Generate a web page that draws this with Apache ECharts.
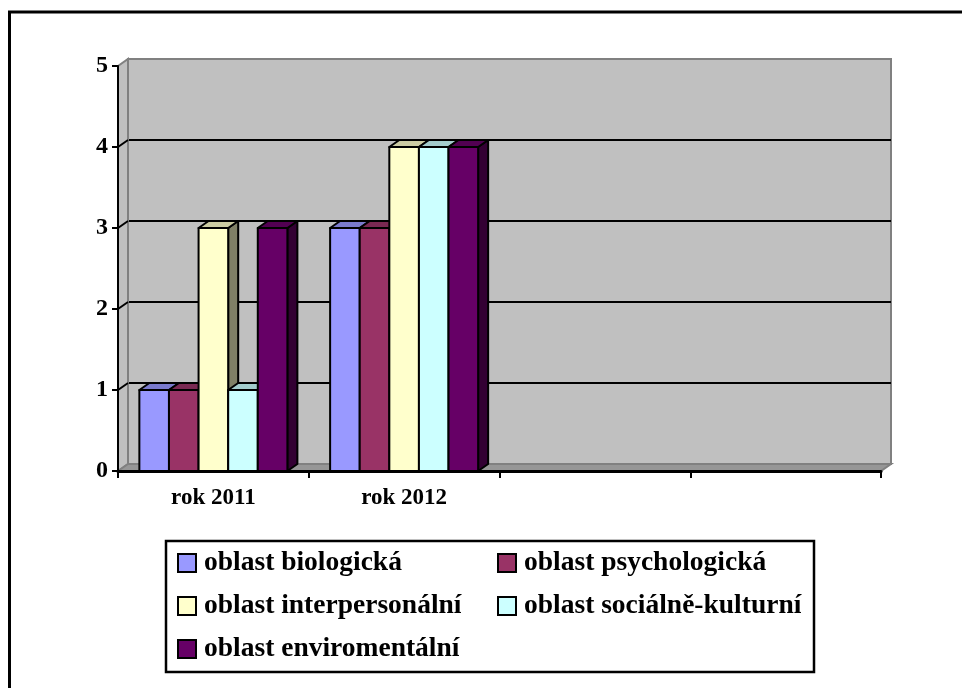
<!DOCTYPE html>
<html>
<head>
<meta charset="utf-8">
<script src="https://cdn.jsdelivr.net/npm/echarts@6/dist/echarts.min.js"></script>
<style>
  html, body { margin: 0; padding: 0; background: #fff; }
  #chart { width: 962px; height: 688px; }
</style>
</head>
<body>
<div id="chart"></div>
<script>
// data
const categories = ['rok 2011', 'rok 2012', ' ', '  ']
const seriesNames = [
  'oblast biologická',
  'oblast psychologická',
  'oblast interpersonální',
  'oblast sociálně-kulturní',
  'oblast enviromentální',
]
const biologicka = [1, 3]
const psychologicka = [1, 3]
const interpersonalni = [3, 4]
const socialneKulturni = [1, 4]
const enviromentalni = [3, 4]
const seriesValues = [biologicka, psychologicka, interpersonalni, socialneKulturni, enviromentalni]
const yTicks = [0, 1, 2, 3, 4, 5]

// Excel 2003 style palette
const colors = ['#9999FF', '#993366', '#FFFFCC', '#CCFFFF', '#660066']

const FONT = "'Liberation Serif', 'Times New Roman', serif"
const DX = 10   // 3D depth offset
const DY = -7
const GAP = 0.224

function shade(hex, k) {
  const n = parseInt(hex.slice(1), 16)
  const r = Math.round(((n >> 16) & 255) * k)
  const g = Math.round(((n >> 8) & 255) * k)
  const b = Math.round((n & 255) * k)
  return 'rgb(' + r + ',' + g + ',' + b + ')'
}

// left wall + floor, drawn from the front grid rect
function renderWalls(params, api) {
  const cs = params.coordSys
  const x0 = cs.x, y0 = cs.y, x1 = cs.x + cs.width, y1 = cs.y + cs.height
  const children = [
    {
      type: 'polygon',
      shape: { points: [[x0, y0], [x0 + DX, y0 + DY], [x0 + DX, y1 + DY], [x0, y1]] },
      style: { fill: '#C0C0C0', stroke: '#808080', lineWidth: 2 },
    },
    {
      type: 'polygon',
      shape: { points: [[x0, y1], [x0 + DX, y1 + DY], [x1 + DX, y1 + DY], [x1, y1]] },
      style: { fill: '#969696', stroke: '#808080', lineWidth: 2 },
    },
  ]
  yTicks.slice(1, -1).forEach(v => {
    const y = api.coord([0, v])[1]
    children.push({
      type: 'line',
      shape: { x1: x0, y1: y, x2: x0 + DX, y2: y + DY },
      style: { stroke: '#000', lineWidth: 2 },
    })
  })
  return { type: 'group', children }
}

function barRenderer(idx) {
  const color = colors[idx]
  return function (params, api) {
    const cat = api.value(0)
    const val = api.value(1)
    const base = api.coord([cat, 0])
    const top = api.coord([cat, val])
    const band = api.size([1, 0])[0]
    const groupW = band * (1 - GAP)
    const w = groupW / seriesValues.length
    const x = base[0] - groupW / 2 + idx * w
    const yb = base[1], yt = top[1]
    const line = { stroke: '#000', lineWidth: 2, lineJoin: 'round' }
    return {
      type: 'group',
      children: [
        {
          type: 'polygon',
          shape: { points: [[x + w, yt], [x + w + DX, yt + DY], [x + w + DX, yb + DY], [x + w, yb]] },
          style: Object.assign({ fill: shade(color, 0.5) }, line),
        },
        {
          type: 'polygon',
          shape: { points: [[x, yt], [x + DX, yt + DY], [x + w + DX, yt + DY], [x + w, yt]] },
          style: Object.assign({ fill: shade(color, 0.8) }, line),
        },
        {
          type: 'rect',
          shape: { x: x, y: yt, width: w, height: yb - yt },
          style: Object.assign({ fill: color }, line),
        },
      ],
    }
  }
}

const chart = echarts.init(document.getElementById('chart'), null, { renderer: 'canvas' })

const labelStyle = { color: '#000', fontFamily: FONT, fontWeight: 'bold' }

const option = {
  animation: false,
  backgroundColor: '#fff',
  grid: [
    // front plane
    { left: 118, top: 66, right: 81, bottom: 217 },
    // back wall
    {
      left: 118 + DX, top: 66 + DY, right: 81 - DX, bottom: 217 - DY,
      show: true, backgroundColor: '#C0C0C0', borderColor: '#808080', borderWidth: 2,
    },
  ],
  xAxis: [
    {
      gridIndex: 0,
      type: 'category',
      data: categories,
      z: 5,
      axisLine: { lineStyle: { color: '#000', width: 3 } },
      axisTick: { show: true, length: 7, interval: 0, lineStyle: { color: '#000', width: 2 } },
      axisLabel: Object.assign({ interval: 0, margin: 16, fontSize: 23 }, labelStyle),
      splitLine: { show: false },
    },
    {
      gridIndex: 1,
      type: 'category',
      data: categories,
      show: false,
    },
  ],
  yAxis: [
    {
      gridIndex: 0,
      type: 'value',
      min: 0, max: 5, interval: 1,
      z: 5,
      axisLine: { show: true, lineStyle: { color: '#000', width: 2 } },
      axisTick: { show: true, length: 6, lineStyle: { color: '#000', width: 2 } },
      axisLabel: Object.assign({ margin: 10, fontSize: 24 }, labelStyle),
      splitLine: { show: false },
    },
    {
      gridIndex: 1,
      type: 'value',
      min: 0, max: 5, interval: 1,
      axisLine: { show: false },
      axisTick: { show: false },
      axisLabel: { show: false },
      splitLine: { show: true, showMinLine: false, showMaxLine: false, lineStyle: { color: '#000', width: 2 } },
    },
  ],
  legend: [
    {
      data: [seriesNames[0], seriesNames[2], seriesNames[4]],
      orient: 'vertical',
      left: 177, top: 549,
      padding: 0,
      itemWidth: 18, itemHeight: 18, itemGap: 15,
      icon: 'rect',
      itemStyle: { borderColor: '#000', borderWidth: 2 },
      textStyle: Object.assign({ fontSize: 27.5, lineHeight: 27, padding: [0, 0, 0, 3] }, labelStyle),
    },
    {
      data: [seriesNames[1], seriesNames[3]],
      orient: 'vertical',
      left: 497, top: 549,
      padding: 0,
      itemWidth: 18, itemHeight: 18, itemGap: 15,
      icon: 'rect',
      itemStyle: { borderColor: '#000', borderWidth: 2 },
      textStyle: Object.assign({ fontSize: 27.5, lineHeight: 27, padding: [0, 0, 0, 3] }, labelStyle),
    },
  ],
  graphic: [
    {
      type: 'rect',
      shape: { x: 9.5, y: 12, width: 1000, height: 1000 },
      style: { fill: 'none', stroke: '#000', lineWidth: 3 },
      silent: true,
    },
    {
      type: 'rect',
      shape: { x: 166, y: 541, width: 648, height: 131 },
      style: { fill: 'none', stroke: '#000', lineWidth: 2.5 },
      silent: true,
    },
  ],
  series: [
    {
      name: 'walls',
      type: 'custom',
      xAxisIndex: 0, yAxisIndex: 0,
      z: 1,
      silent: true,
      renderItem: renderWalls,
      data: [[0, 0]],
      encode: { x: 0, y: 1 },
    },
  ].concat(seriesValues.map((vals, i) => ({
    name: seriesNames[i],
    type: 'custom',
    xAxisIndex: 0, yAxisIndex: 0,
    z: 2,
    itemStyle: { color: colors[i] },
    renderItem: barRenderer(i),
    encode: { x: 0, y: 1 },
    data: vals.map((v, c) => [c, v]),
  }))),
}

chart.setOption(option)
</script>
</body>
</html>
